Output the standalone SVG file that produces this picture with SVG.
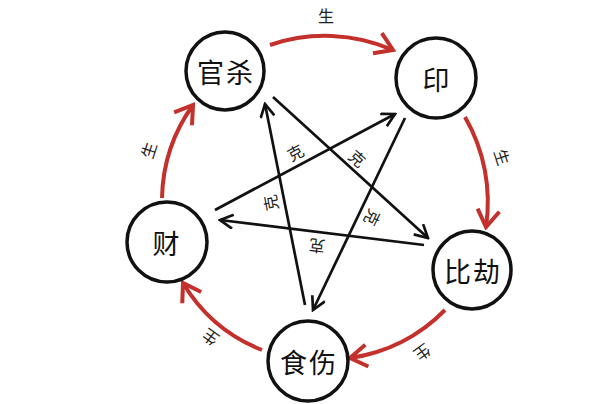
<svg xmlns="http://www.w3.org/2000/svg" width="600" height="404" viewBox="0 0 600 404">
<style>
.node circle{fill:#fff;stroke:#111;stroke-width:3.5}
.node text{font-family:"Noto Sans CJK SC","Noto Sans",sans-serif;font-size:27px;fill:#111;text-anchor:middle;dominant-baseline:central;letter-spacing:2px}
.sheng{fill:none;stroke:#c4302b;stroke-width:4;marker-end:url(#ra)}
.ke{fill:none;stroke:#111;stroke-width:2.7;marker-end:url(#ba)}
.lbl{font-family:"Noto Sans CJK SC","Noto Sans",sans-serif;font-size:16px;fill:#222;text-anchor:middle;dominant-baseline:central}
</style>
<defs>
<marker id="ra" markerUnits="userSpaceOnUse" viewBox="0 0 22 26" markerWidth="22" markerHeight="26" refX="19" refY="13" orient="auto">
<path d="M2,2 L19,13 L2,24" fill="none" stroke="#c4302b" stroke-width="4"/>
</marker>
<marker id="ba" markerUnits="userSpaceOnUse" viewBox="0 0 16 16" markerWidth="16" markerHeight="16" refX="14" refY="8" orient="auto">
<path d="M1,1 L14,8 L1,15" fill="none" stroke="#111" stroke-width="2.7"/>
</marker>
</defs>
<rect width="600" height="404" fill="#fff"/>
<g id="connectors">
<path class="sheng" d="M270,45 A170,170 0 0 1 393,50"/>
<path class="sheng" d="M465,117 A170,170 0 0 1 486,227"/>
<path class="sheng" d="M445,310 A165,165 0 0 1 350,358"/>
<path class="sheng" d="M262,350 A160,160 0 0 1 183,283"/>
<path class="sheng" d="M162,198 A165,165 0 0 1 193,105"/>
<path class="ke" d="M305,305 L265,104"/>
<path class="ke" d="M273,97 L428,238"/>
<path class="ke" d="M424,245 L220,220"/>
<path class="ke" d="M215,210 L395,114"/>
<path class="ke" d="M405,118 L313,310"/>
<text class="lbl" x="326" y="15">生</text>
<text class="lbl" transform="translate(503,157) rotate(72)">生</text>
<text class="lbl" transform="translate(423,353) rotate(144)">生</text>
<text class="lbl" transform="translate(210,338) rotate(-144)">生</text>
<text class="lbl" transform="translate(148,150) rotate(-72)">生</text>
<text class="lbl" transform="translate(295,152) rotate(-28)">克</text>
<text class="lbl" transform="translate(358,158) rotate(42)">克</text>
<text class="lbl" transform="translate(270,203) rotate(-101)">克</text>
<text class="lbl" transform="translate(373,218) rotate(116)">克</text>
<text class="lbl" transform="translate(317,247) rotate(187)">克</text>
</g>
<g id="guansha" class="node"><circle cx="225" cy="71" r="39"/><text x="226" y="71">官杀</text></g>
<g id="yin" class="node"><circle cx="436" cy="78" r="40"/><text x="437" y="78">印</text></g>
<g id="bijie" class="node"><circle cx="472" cy="270" r="39"/><text x="473" y="270">比劫</text></g>
<g id="shishang" class="node"><circle cx="308" cy="361" r="40"/><text x="309" y="361">食伤</text></g>
<g id="cai" class="node"><circle cx="167" cy="242" r="40"/><text x="167" y="242">财</text></g>
</svg>
